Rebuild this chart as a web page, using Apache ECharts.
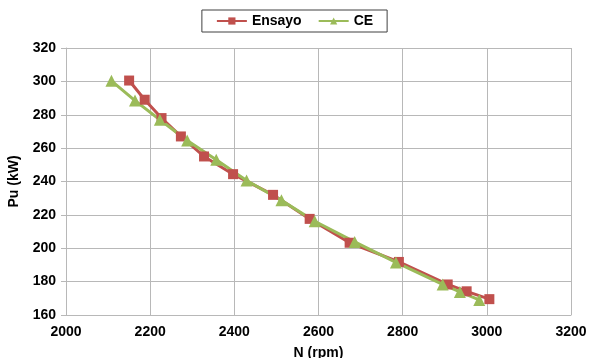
<!DOCTYPE html>
<html>
<head>
<meta charset="utf-8">
<script src="https://cdn.jsdelivr.net/npm/echarts@6/dist/echarts.min.js"></script>
<style>
  html, body { margin: 0; padding: 0; background: #fff; }
  #chart { width: 589px; height: 358px; }
</style>
</head>
<body>
<div id="chart"></div>
<script>
	// valores
	var ensayoN  = [2150, 2187, 2227, 2273, 2328, 2397, 2492, 2579, 2674, 2791, 2907, 2952, 3006];
	var ensayoPu = [300.5, 289, 278, 267, 255, 244.4, 232, 217.6, 203.3, 191.8, 178.3, 174.2, 169.5];
	var ceN  = [2108, 2164, 2223, 2288, 2357, 2429, 2512, 2591, 2686, 2784, 2895, 2936, 2982];
	var cePu = [300.3, 288.5, 277, 264.6, 253, 240.6, 228.7, 216.2, 203.8, 191.5, 178.3, 173.8, 169];
	var seriesNames = ['Ensayo', 'CE'];

	function pairs(xs, ys){
		var out = [];
		for(var i = 0;i < xs.length;i++){
			out.push([xs[i], ys[i]]);
		}
		return out;
	}

	var font = 'Liberation Sans, Arial, sans-serif';
	var gridColor = '#b8b8b8';
	var chart = echarts.init(document.getElementById('chart'));
	var option = {
		animation: false,
		backgroundColor: '#fff',
		legend: {
			top: 10,
			left: 'center',
			padding: [4, 14, 4, 14],
			borderColor: '#404040',
			borderWidth: 1,
			itemWidth: 30,
			itemHeight: 9,
			itemGap: 16,
			textStyle: { fontFamily: font, fontWeight: 'bold', fontSize: 14, color: '#000' },
			data: seriesNames
		},
		grid: { left: 66, right: 18, top: 48, bottom: 43, containLabel: false, outerBoundsMode: 'none' },
		xAxis: {
			type: 'value',
			min: 2000, max: 3200, interval: 200,
			name: 'N (rpm)',
			nameLocation: 'middle',
			nameGap: 31,
			nameTextStyle: { fontFamily: font, fontWeight: 'bold', fontSize: 14, color: '#000' },
			axisLine: { show: true, onZero: false, lineStyle: { color: gridColor } },
			axisTick: { show: false },
			axisLabel: {
				fontFamily: font, fontWeight: 'bold', fontSize: 14, color: '#000', margin: 10,
				formatter: function(v){ return String(v); }
			},
			splitLine: { show: true, lineStyle: { color: gridColor, width: 1 } }
		},
		yAxis: {
			type: 'value',
			min: 160, max: 320, interval: 20,
			name: 'Pu (kW)',
			nameLocation: 'middle',
			nameGap: 45,
			nameTextStyle: { fontFamily: font, fontWeight: 'bold', fontSize: 14, color: '#000' },
			axisLine: { show: true, lineStyle: { color: gridColor } },
			axisTick: { show: true, length: 5, lineStyle: { color: gridColor } },
			axisLabel: {
				fontFamily: font, fontWeight: 'bold', fontSize: 14, color: '#000', margin: 10,
				formatter: function(v){ return String(v); }
			},
			splitLine: { show: true, lineStyle: { color: gridColor, width: 1 } }
		},
		series: [{
			name: seriesNames[0],
			type: 'line',
			data: pairs(ensayoN, ensayoPu),
			symbol: 'rect',
			symbolSize: 10,
			color: '#c0504d',
			lineStyle: { color: '#c0504d', width: 3 },
			itemStyle: { color: '#c0504d' }
		}, {
			name: seriesNames[1],
			type: 'line',
			data: pairs(ceN, cePu),
			symbol: 'triangle',
			symbolSize: 12,
			color: '#9bbb59',
			lineStyle: { color: '#9bbb59', width: 3 },
			itemStyle: { color: '#9bbb59' }
		}]
	};
	chart.setOption(option);
</script>
</body>
</html>
